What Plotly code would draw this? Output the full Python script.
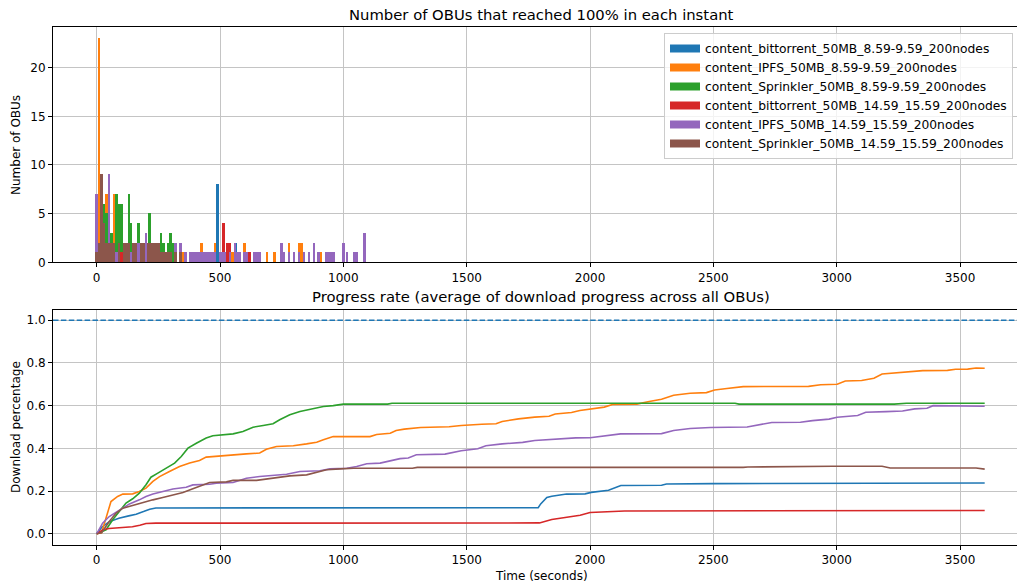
import plotly.graph_objects as go

# ---- series names and colours ----
NAMES = [
    "content_bittorrent_50MB_8.59-9.59_200nodes",
    "content_IPFS_50MB_8.59-9.59_200nodes",
    "content_Sprinkler_50MB_8.59-9.59_200nodes",
    "content_bittorrent_50MB_14.59_15.59_200nodes",
    "content_IPFS_50MB_14.59_15.59_200nodes",
    "content_Sprinkler_50MB_14.59_15.59_200nodes",
]
COLORS = ["#1f77b4", "#ff7f0e", "#2ca02c", "#d62728", "#9467bd", "#8c564b"]

# ---- OBUs reaching 100% per instant: (time s, count) ----
BT_EARLY_DONE = [(10, 3), (20, 5), (30, 2), (490, 8), (530, 2), (565, 2)]
IPFS_EARLY_DONE = [
    (10, 23), (20, 3), (40, 7), (60, 2), (70, 7), (90, 2), (120, 1), (160, 1),
    (190, 1), (230, 1), (270, 1), (310, 1), (350, 1), (380, 1), (400, 1),
    (425, 2), (440, 1), (460, 1), (480, 2), (520, 1), (530, 2), (550, 1),
    (580, 1), (600, 2), (620, 1), (640, 1), (660, 1), (690, 1), (720, 1),
    (780, 2), (800, 1), (820, 2), (830, 2), (860, 1), (880, 1), (910, 1),
    (940, 1), (960, 1),
]
SPR_EARLY_DONE = [
    (20, 4), (30, 6), (40, 5), (50, 6), (60, 3), (80, 7), (90, 6), (100, 6),
    (130, 7), (140, 4), (150, 2), (170, 4), (180, 2), (200, 2), (215, 5),
    (220, 2), (240, 2), (260, 3), (270, 2), (290, 2), (300, 3), (310, 2),
    (320, 2), (340, 1), (360, 1), (380, 1), (400, 1), (430, 1), (460, 1),
]
BT_LATE_DONE = [
    (10, 2), (20, 1), (40, 1), (60, 1), (100, 1), (150, 1), (180, 1),
    (200, 1), (515, 4), (530, 2), (540, 2), (560, 1), (600, 1), (620, 1),
]
IPFS_LATE_DONE = [
    (0, 7), (20, 1), (50, 9), (60, 2), (80, 1), (110, 1), (140, 1), (170, 2),
    (200, 3), (210, 2), (230, 1), (250, 1), (280, 1), (300, 1), (320, 2),
    (340, 2), (360, 1), (380, 1), (390, 1), (400, 1), (410, 1), (420, 1),
    (430, 1), (440, 1), (450, 1), (460, 1), (470, 1), (480, 1), (500, 1),
    (510, 1), (520, 1), (540, 1), (560, 2), (570, 1), (580, 1), (600, 1),
    (610, 1), (640, 1), (650, 1), (660, 1), (750, 2), (760, 1), (780, 1),
    (800, 1), (820, 1), (840, 1), (860, 1), (880, 2), (900, 1), (930, 1),
    (940, 1), (950, 1), (960, 1), (1000, 2), (1015, 1), (1045, 1),
    (1055, 1), (1085, 3),
]
SPR_LATE_DONE = [
    (0, 1), (10, 2), (20, 9), (30, 4), (40, 2), (50, 2), (60, 2), (70, 2),
    (90, 2), (110, 2), (120, 2), (130, 2), (150, 2), (160, 2), (180, 2),
    (190, 2), (210, 2), (220, 2), (230, 2), (240, 2), (250, 2), (260, 1),
    (270, 1), (280, 1), (290, 1), (300, 1), (320, 1), (340, 1),
]

# ---- average download progress: (time s, fraction) ----
BT_EARLY_PROG = [
    (0, 0), (20, 0.03), (50, 0.056), (90, 0.073), (130, 0.084), (160, 0.092),
    (190, 0.104), (215, 0.115), (240, 0.121), (1790, 0.122), (1800, 0.14),
    (1825, 0.17), (1845, 0.176), (1905, 0.186), (1980, 0.187), (2005, 0.194),
    (2075, 0.204), (2125, 0.226), (2290, 0.227), (2310, 0.233), (2500, 0.235),
    (3130, 0.238), (3600, 0.238),
]
IPFS_EARLY_PROG = [
    (0, 0), (20, 0.005), (58, 0.151), (85, 0.175), (106, 0.186), (146, 0.187),
    (173, 0.198), (200, 0.214), (228, 0.245), (255, 0.268), (295, 0.292),
    (336, 0.315), (377, 0.331), (417, 0.343), (444, 0.359), (499, 0.365),
    (553, 0.37), (607, 0.374), (661, 0.378), (688, 0.396), (729, 0.409),
    (797, 0.412), (851, 0.421), (892, 0.429), (919, 0.44), (959, 0.455),
    (1108, 0.455), (1135, 0.465), (1190, 0.471), (1214, 0.484), (1247, 0.49),
    (1313, 0.498), (1429, 0.501), (1478, 0.507), (1561, 0.513), (1619, 0.515),
    (1644, 0.526), (1710, 0.538), (1776, 0.546), (1834, 0.55), (1859, 0.561),
    (1925, 0.568), (1959, 0.577), (2000, 0.583), (2058, 0.593), (2091, 0.605),
    (2190, 0.607), (2240, 0.619), (2290, 0.63), (2339, 0.649), (2406, 0.658),
    (2472, 0.661), (2505, 0.673), (2555, 0.68), (2621, 0.689), (2886, 0.69),
    (2935, 0.698), (3002, 0.70), (3035, 0.715), (3101, 0.718), (3151, 0.728),
    (3184, 0.748), (3233, 0.753), (3283, 0.755), (3349, 0.764), (3449, 0.765),
    (3482, 0.77), (3531, 0.771), (3565, 0.776), (3600, 0.775),
]
SPR_EARLY_PROG = [
    (0, 0), (38, 0.019), (65, 0.066), (92, 0.105), (119, 0.144), (146, 0.164),
    (173, 0.19), (200, 0.23), (220, 0.265), (248, 0.284), (295, 0.315),
    (316, 0.331), (343, 0.362), (370, 0.401), (404, 0.424), (444, 0.448),
    (471, 0.459), (512, 0.463), (553, 0.468), (593, 0.479), (634, 0.499),
    (675, 0.507), (715, 0.515), (742, 0.534), (783, 0.557), (824, 0.573),
    (878, 0.588), (919, 0.596), (959, 0.6), (1000, 0.607), (1180, 0.607),
    (1197, 0.611), (2588, 0.611), (2604, 0.607), (3233, 0.607), (3283, 0.611),
    (3600, 0.611),
]
BT_LATE_PROG = [
    (0, 0), (25, 0.019), (50, 0.025), (105, 0.028), (145, 0.033), (175, 0.04),
    (200, 0.048), (240, 0.05), (1795, 0.051), (1845, 0.067), (1910, 0.078),
    (1960, 0.087), (2000, 0.1), (2090, 0.103), (2140, 0.107), (3600, 0.109),
]
IPFS_LATE_PROG = [
    (0, 0), (24, 0.05), (51, 0.081), (92, 0.112), (133, 0.14), (173, 0.159),
    (200, 0.175), (228, 0.186), (268, 0.198), (309, 0.21), (363, 0.218),
    (390, 0.229), (458, 0.232), (485, 0.237), (553, 0.24), (607, 0.26),
    (661, 0.268), (729, 0.273), (770, 0.279), (824, 0.292), (905, 0.295),
    (946, 0.304), (1014, 0.307), (1054, 0.315), (1095, 0.328), (1149, 0.331),
    (1190, 0.343), (1230, 0.352), (1263, 0.355), (1296, 0.37), (1412, 0.373),
    (1478, 0.389), (1545, 0.398), (1578, 0.412), (1644, 0.421), (1727, 0.428),
    (1776, 0.437), (1843, 0.442), (1942, 0.449), (2000, 0.45), (2058, 0.46),
    (2124, 0.468), (2290, 0.469), (2339, 0.484), (2406, 0.493), (2488, 0.498),
    (2637, 0.5), (2687, 0.509), (2737, 0.521), (2853, 0.522), (2902, 0.53),
    (2969, 0.537), (3002, 0.546), (3085, 0.554), (3118, 0.569), (3200, 0.572),
    (3267, 0.575), (3316, 0.585), (3366, 0.588), (3391, 0.6), (3565, 0.6),
    (3600, 0.597),
]
SPR_LATE_PROG = [
    (0, 0), (20, 0.005), (51, 0.058), (79, 0.097), (106, 0.12), (146, 0.133),
    (187, 0.148), (228, 0.159), (268, 0.17), (309, 0.183), (350, 0.193),
    (390, 0.211), (431, 0.229), (458, 0.24), (526, 0.243), (553, 0.25),
    (648, 0.25), (688, 0.257), (729, 0.264), (783, 0.271), (851, 0.276),
    (892, 0.289), (932, 0.3), (987, 0.304), (1041, 0.307), (1280, 0.307),
    (1300, 0.311), (2621, 0.311), (2640, 0.313), (2985, 0.316), (3184, 0.316),
    (3217, 0.308), (3565, 0.308), (3600, 0.303),
]

DONE = [BT_EARLY_DONE, IPFS_EARLY_DONE, SPR_EARLY_DONE,
        BT_LATE_DONE, IPFS_LATE_DONE, SPR_LATE_DONE]
PROG = [BT_EARLY_PROG, IPFS_EARLY_PROG, SPR_EARLY_PROG,
        BT_LATE_PROG, IPFS_LATE_PROG, SPR_LATE_PROG]

X_TICKS = [0, 500, 1000, 1500, 2000, 2500, 3000, 3500]
TOP_Y_TICKS = [0, 5, 10, 15, 20]
BOT_Y_TICKS = [0.0, 0.2, 0.4, 0.6, 0.8, 1.0]
TARGET = 1.0
BIN_WIDTH = 10

FONT = "DejaVu Sans"
W, H = 1017, 588
L = 53

fig = go.Figure()

for name, color, pts in zip(NAMES, COLORS, DONE):
    t, c = zip(*pts)
    fig.add_trace(go.Bar(
        x=list(t), y=list(c), width=BIN_WIDTH, name=name, showlegend=False,
        marker=dict(color=color, line=dict(width=0)),
        xaxis="x", yaxis="y",
    ))

# legend entries drawn as wide colour patches
for name, color in zip(NAMES, COLORS):
    fig.add_trace(go.Scatter(
        x=[None], y=[None], mode="lines", name=name,
        line=dict(color=color, width=8),
        xaxis="x", yaxis="y",
    ))

for name, color, pts in zip(NAMES, COLORS, PROG):
    t, v = zip(*pts)
    fig.add_trace(go.Scatter(
        x=list(t), y=list(v), mode="lines", name=name, showlegend=False,
        line=dict(color=color, width=1.6),
        xaxis="x2", yaxis="y2",
    ))

# full-completion reference line
fig.add_shape(type="line", xref="x2 domain", yref="y2", x0=0, x1=1,
              y0=TARGET, y1=TARGET,
              line=dict(color="#1f77b4", width=1.6, dash="5.5px,2.4px"))

axis_common = dict(
    showgrid=True, gridcolor="#c4c4c4", gridwidth=1,
    zeroline=False, showline=True, linecolor="black", linewidth=1,
    ticks="outside", ticklen=4, tickwidth=1, tickcolor="black",
    tickfont=dict(family=FONT, size=12, color="black"),
    automargin=False,
)

xr = [-177, 3731]
fig.update_layout(
    width=W, height=H,
    margin=dict(l=L, r=0, t=0, b=0, autoexpand=False),
    paper_bgcolor="white", plot_bgcolor="white",
    barmode="overlay", bargap=0,
    font=dict(family=FONT, size=12, color="black"),
    xaxis=dict(axis_common, range=xr, tickvals=X_TICKS, mirror=True,
               anchor="y", domain=[0, 1]),
    yaxis=dict(axis_common, range=[0, 24.15], tickvals=TOP_Y_TICKS,
               anchor="x", domain=[1 - 262.3 / H, 1 - 27.3 / H]),
    xaxis2=dict(axis_common, range=xr, tickvals=X_TICKS, mirror=True,
                anchor="y2", domain=[0, 1]),
    yaxis2=dict(axis_common, range=[-0.05, 1.05], tickvals=BOT_Y_TICKS,
                tickformat=".1f", anchor="x2",
                domain=[1 - 544.5 / H, 1 - 309.5 / H]),
    legend=dict(
        x=(1013 - L) / (W - L), y=1 - 33 / H, xanchor="right", yanchor="top",
        bgcolor="rgba(255,255,255,0.8)", bordercolor="#cccccc", borderwidth=1,
        font=dict(family=FONT, size=12.3, color="black"),
        tracegroupgap=0,
    ),
    showlegend=True,
)

cx = (541 - L) / (W - L)
annots = [
    ("Number of OBUs that reached 100% in each instant", cx, 14, 0, 14.8),
    ("Progress rate (average of download progress across all OBUs)", cx, 297, 0, 14.8),
    ("Time (seconds)", cx, 576, 0, 12),
    ("Number of OBUs", (16 - L) / (W - L), 145, -90, 12),
    ("Download percentage", (16 - L) / (W - L), 427, -90, 12),
]
for text, x, ypx, angle, size in annots:
    fig.add_annotation(xref="paper", yref="paper", showarrow=False,
                       x=x, y=1 - ypx / H, text=text, textangle=angle,
                       xanchor="center", yanchor="middle",
                       font=dict(family=FONT, color="black", size=size))

fig.write_html("out.html")
